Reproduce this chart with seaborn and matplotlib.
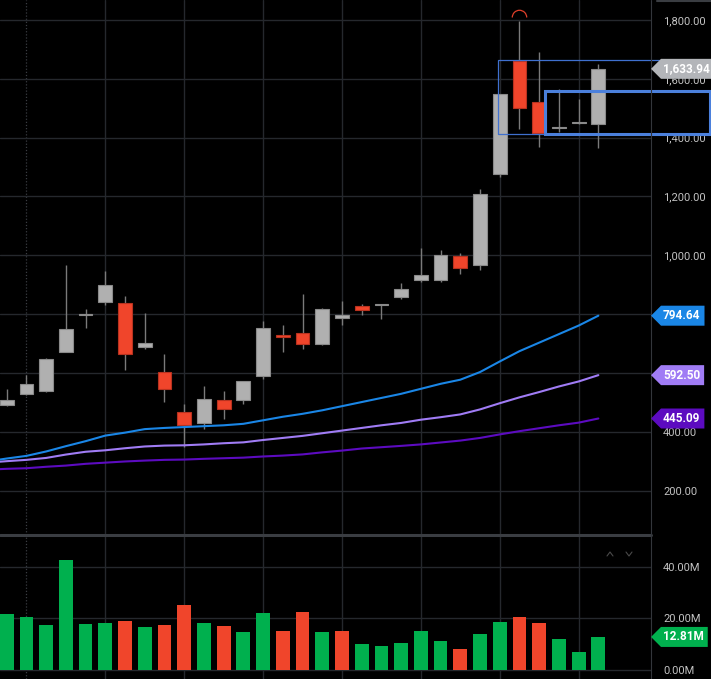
import numpy as np
import pandas as pd
import seaborn as sns
import matplotlib
matplotlib.use("Agg")
import matplotlib.pyplot as plt
from matplotlib.patches import Rectangle, Polygon
from matplotlib.lines import Line2D
from matplotlib.path import Path
from matplotlib.transforms import IdentityTransform, offset_copy

# ---------------- data ----------------
opens = [491, 527, 538, 672, 797, 840, 838, 689, 603, 468, 430, 509, 509, 588, 729, 737,
         698, 788, 826, 831, 859, 917, 917, 999, 968, 1277, 1660, 1520, 1432, 1450, 1448]
closes = [509, 563, 648, 748, 799, 900, 665, 701, 544, 424, 512, 477, 571, 753, 723, 700,
          819, 798, 814, 833, 885, 934, 1000, 958, 1210, 1547, 1501, 1416, 1436, 1454, 1633.94]
highs = [545, 594, 650, 968, 819, 945, 863, 805, 665, 494, 557, 540, 573, 775, 764, 870,
         822, 843, 833, 834, 907, 1026, 1019, 1009, 1227, 1550, 1798, 1690, 1565, 1530, 1652]
lows = [488, 525, 536, 670, 752, 832, 610, 682, 500, 347, 408, 444, 495, 580, 671, 682,
        696, 762, 796, 784, 852, 908, 908, 938, 949, 1267, 1431, 1368, 1420, 1446, 1365]
volumes_m = [21.5, 20.5, 17.4, 42.6, 17.8, 18.3, 19.0, 16.6, 17.3, 25.2, 18.2, 16.9, 14.6,
             21.9, 15.0, 22.5, 14.7, 15.0, 9.9, 9.4, 10.5, 15.2, 11.4, 8.1, 13.9, 18.6,
             20.4, 18.1, 12.0, 7.1, 12.81]
# moving averages, starting one bar before the first visible candle
ma_fast = [299, 309, 318, 333, 351, 368, 387, 397, 409, 413, 416, 419, 422, 427, 439, 451,
           461, 473, 487, 501, 515, 529, 546, 563, 577, 603, 639, 674, 703, 732, 761, 794.64]
ma_mid = [295, 300, 304.5, 311, 322.5, 332, 337, 344, 350, 353, 354, 357, 361, 364, 372, 379,
          386, 395, 404, 413, 422, 430, 441, 449.5, 459, 476, 497, 517, 535, 554, 571, 592.50]
ma_slow = [271, 274, 276, 281, 285, 291, 295, 299, 302, 304.5, 305.5, 308, 310, 312, 316, 319,
           323, 330, 336, 343, 347.5, 352, 357, 363.5, 370, 379, 391, 402, 412, 422, 431, 445.09]
price_ticks = [200, 400, 600, 800, 1000, 1200, 1400, 1600, 1800]
hidden_price_labels = [600, 800]   # fully covered by value tags in the reference
volume_ticks = [0, 20, 40]
# drawn boxes: (start bar, low price, high price)
box_thin = (24.93, 1411, 1663)
box_thick = (27.3, 1414, 1559)

# ---------------- style ----------------
sns.set_style("dark", {"axes.facecolor": "black", "figure.facecolor": "black"})
plt.rcParams["font.family"] = ["Roboto", "DejaVu Sans"]

BG = "black"
GRID = "#25282d"
TXT = "#c2c2c2"
UP = "#b0b0b0"
UP_EDGE = "#8a8a8a"
DOWN = "#f0452b"
DOWN_EDGE = "#b8321f"
WICK = "#7a7a7a"
VGREEN = "#00b04e"
BLUE = "#1a86e6"
LPURP = "#a07cf5"
DPURP = "#5c0bc0"

W, H = 711, 679
fig = plt.figure(figsize=(W / 100, H / 100), dpi=100, facecolor=BG)
RIGHT = 651
ax = fig.add_axes([0, 1 - 535 / H, RIGHT / W, 535 / H])
axv = fig.add_axes([0, 0, RIGHT / W, 143 / H])

n = len(closes)
idx = np.arange(n)
ma_x = np.arange(-1, n)
xlim = (-0.34, 32.67)

for a in (ax, axv):
    a.set_facecolor(BG)
    for s in a.spines.values():
        s.set_visible(False)
    a.set_xlim(*xlim)
    a.set_xticks([])
    a.yaxis.tick_right()
    a.tick_params(axis="y", length=0, pad=8.6, labelcolor=TXT, labelsize=8)
    a.grid(False)
    for gx in range(5, n, 4):
        a.axvline(gx, color=GRID, lw=1.0, zorder=0)
    a.axvline(1, color="#3a3d42", lw=0.9, ls=(0, (1, 1.5)), zorder=0)

# ---------------- price panel ----------------
ax.set_ylim(49, 1868)
for t in price_ticks:
    ax.axhline(t, color=GRID, lw=1.0, zorder=0)
ax.set_yticks(price_ticks)
ax.set_yticklabels(["" if t in hidden_price_labels else f"{t:,.2f}" for t in price_ticks])

o = np.array(opens, float)
c = np.array(closes, float)
up = c >= o
ax.vlines(idx, lows, highs, color=WICK, lw=1.0, zorder=2)
ax.bar(idx[up], (c - o)[up], bottom=o[up], width=0.7, color=UP, edgecolor=UP_EDGE,
       linewidth=0.8, zorder=3)
ax.bar(idx[~up], (o - c)[~up], bottom=c[~up], width=0.7, color=DOWN, edgecolor=DOWN_EDGE,
       linewidth=0.8, zorder=3)

for vals, col in ((ma_slow, DPURP), (ma_mid, LPURP), (ma_fast, BLUE)):
    sns.lineplot(x=ma_x, y=vals, ax=ax, color=col, lw=1.5, zorder=4)
ax.set_xlim(*xlim)
ax.set_ylim(49, 1868)
ax.set_xlabel("")
ax.set_ylabel("")

# high marker arc over the highest candle
hi = int(np.argmax(highs))
ax.plot([hi], [highs[hi]], marker=Path.arc(0, 180), ms=10.4, mfc="none", mec="#e0402a",
        mew=0.9, ls="none", clip_on=False, zorder=6,
        transform=offset_copy(ax.transData, fig=fig, y=2.7, units="points"))

# drawn boxes
x0, lo, hi_p = box_thin
ax.add_patch(Rectangle((x0, lo), 20, hi_p - lo, fill=False, ec="#3f70cf", lw=0.9,
                       clip_on=False, zorder=6))
x0, lo, hi_p = box_thick
ax.add_patch(Rectangle((x0, lo), 35.64 - x0, hi_p - lo, fill=False, ec="#4b80dc", lw=2.2,
                       clip_on=False, zorder=6))

# ---------------- volume panel ----------------
vol_dir = ["up"] + ["up" if closes[i] >= closes[i - 1] else "down" for i in range(1, n)]
vdf = pd.DataFrame({"bar": idx, "vol": volumes_m, "dir": vol_dir})
sns.barplot(data=vdf, x="bar", y="vol", hue="dir", palette={"up": VGREEN, "down": DOWN},
            native_scale=True, dodge=False, width=0.7, saturation=1, errorbar=None,
            legend=False, ax=axv, edgecolor="none", zorder=3)
axv.set_xlim(*xlim)
axv.set_ylim(-3.48, 51.9)
for t in volume_ticks:
    axv.axhline(t, color=GRID, lw=1.0, zorder=0)
axv.set_yticks(volume_ticks)
axv.set_yticklabels([f"{t:.2f}M" for t in volume_ticks])
axv.set_xticks([])
axv.set_xlabel("")
axv.set_ylabel("")
axv.tick_params(axis="y", length=0, pad=8.6, labelcolor=TXT, labelsize=8)

# ---------------- frame lines ----------------
ident = IdentityTransform()
fig.add_artist(Line2D([0, RIGHT], [H - 534.5, H - 534.5], transform=ident,
                      color="#3a3d42", lw=2.2))
fig.add_artist(Line2D([RIGHT, RIGHT], [0, H], transform=ident, color="#33363b", lw=0.8))
fig.add_artist(Line2D([657, W], [H - 0.5, H - 0.5], transform=ident, color="#3a3d42", lw=1.5))
# collapse chevrons
fig.add_artist(Line2D([607, 610, 613], [H - 556, H - 552, H - 556], transform=ident,
                      color="#4a4a4a", lw=0.8))
fig.add_artist(Line2D([626, 629, 632], [H - 552, H - 556, H - 552], transform=ident,
                      color="#4a4a4a", lw=0.8))

# ---------------- value tags ----------------
renderer = fig.canvas.get_renderer()


def tag(axis, value, text, bg, fg="white"):
    yd = axis.transData.transform((0, value))[1]
    t = fig.text(663, yd, text, transform=ident, color=fg, fontsize=8.5, fontweight="bold",
                 ha="left", va="center", zorder=11)
    bb = t.get_window_extent(renderer)
    right = min(bb.x1 + 4, W)
    poly = Polygon([(RIGHT, yd), (661, yd + 10), (right, yd + 10), (right, yd - 10),
                    (661, yd - 10)], closed=True, transform=ident, facecolor=bg,
                   edgecolor="none", zorder=10)
    fig.add_artist(poly)


tag(ax, closes[-1], f"{closes[-1]:,.2f}", "#b3b5b9")
tag(ax, ma_fast[-1], f"{ma_fast[-1]:,.2f}", BLUE)
tag(ax, ma_mid[-1], f"{ma_mid[-1]:,.2f}", LPURP)
tag(ax, ma_slow[-1], f"{ma_slow[-1]:,.2f}", DPURP)
tag(axv, volumes_m[-1], f"{volumes_m[-1]:.2f}M", VGREEN)

fig.savefig("out.png", dpi=100, facecolor=BG)
